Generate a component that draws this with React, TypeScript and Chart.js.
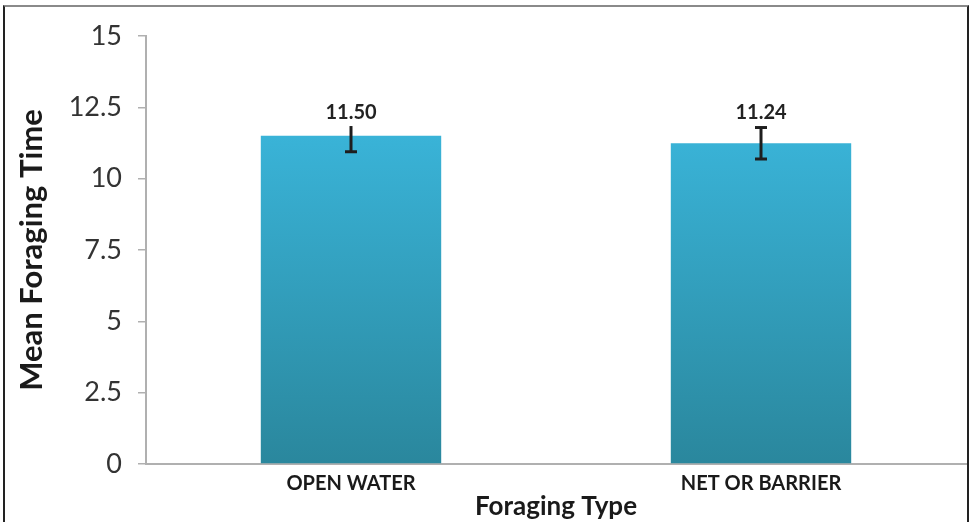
import { useEffect, useRef } from 'react';
import { Chart, registerables } from 'chart.js';

Chart.register(...registerables);

const categories = ['OPEN WATER', 'NET OR BARRIER'];
const means = [11.5, 11.24];
const errors = [0.56, 0.55];
const valueLabels = ['11.50', '11.24'];
const yTicks = [0, 2.5, 5, 7.5, 10, 12.5, 15];
const LABEL_VALUE = 12.3;

const FONT = 'Lato, "Open Sans", sans-serif';

const errorBarPlugin = {
  id: 'errorBars',
  afterDatasetsDraw(chart: any) {
    const ctx = chart.ctx;
    const y = chart.scales.y;
    const meta = chart.getDatasetMeta(0);
    meta.data.forEach((bar: any, i: number) => {
      const x = bar.x;
      const top = y.getPixelForValue(means[i] + errors[i]);
      const bot = y.getPixelForValue(means[i] - errors[i]);
      ctx.save();
      ctx.strokeStyle = '#1e1e1e';
      ctx.lineWidth = 3;
      ctx.beginPath();
      ctx.moveTo(x, top);
      ctx.lineTo(x, bot);
      ctx.moveTo(x - 6, top);
      ctx.lineTo(x + 6, top);
      ctx.moveTo(x - 6, bot);
      ctx.lineTo(x + 6, bot);
      ctx.stroke();
      const ly = y.getPixelForValue(LABEL_VALUE);
      ctx.font = 'bold 20px ' + FONT;
      const w = ctx.measureText(valueLabels[i]).width;
      ctx.fillStyle = '#ffffff';
      ctx.fillRect(x - w / 2 - 4, ly - 14, w + 8, 27);
      ctx.fillStyle = '#222222';
      ctx.textAlign = 'center';
      ctx.textBaseline = 'middle';
      ctx.fillText(valueLabels[i], x, ly);
      ctx.restore();
    });
  },
};

export default function App() {
  const ref = useRef<HTMLCanvasElement | null>(null);

  useEffect(() => {
    if (!ref.current) return;
    const chart = new Chart(ref.current, {
      type: 'bar',
      data: {
        labels: categories,
        datasets: [
          {
            data: means,
            backgroundColor: (c: any) => {
              const { chart } = c;
              const area = chart.chartArea;
              if (!area) return '#34a6c8';
              const ys = chart.scales.y;
              const g = chart.ctx.createLinearGradient(0, ys.getPixelForValue(12), 0, area.bottom);
              g.addColorStop(0, '#3ab5da');
              g.addColorStop(1, '#2a879d');
              return g;
            },
            borderWidth: 0,
            categoryPercentage: 1,
            barPercentage: 0.44,
          },
        ],
      },
      options: {
        responsive: false,
        animation: false,
        layout: { padding: { top: 36, right: 3, left: 0, bottom: 0 } },
        plugins: {
          legend: { display: false },
          tooltip: { enabled: false },
        },
        scales: {
          x: {
            grid: { display: false },
            border: { display: true, color: '#b0b0b0', width: 2 },
            ticks: {
              color: '#1a1a1a',
              padding: 0,
              font: { family: FONT, size: 20, weight: 'bold' },
            },
            title: {
              display: true,
              text: 'Foraging Type',
              color: '#1a1a1a',
              padding: { top: 0, bottom: 0 },
              font: { family: FONT, size: 26, weight: 'bold', lineHeight: 1.2 },
            },
            afterFit: (s: any) => {
              s.height = 58;
            },
          },
          y: {
            min: 0,
            max: 15,
            afterBuildTicks: (s: any) => {
              s.ticks = yTicks.map((v) => ({ value: v }));
            },
            grid: {
              drawOnChartArea: false,
              drawTicks: true,
              tickLength: 8,
              color: '#b0b0b0',
              lineWidth: 1.5,
            },
            border: { display: true, color: '#b0b0b0', width: 2 },
            ticks: {
              color: '#333333',
              padding: 16,
              font: { family: FONT, size: 27 },
              callback: (v: any) => String(v),
            },
            title: {
              display: true,
              text: 'Mean Foraging Time',
              color: '#1a1a1a',
              padding: { top: 13, bottom: 0 },
              font: { family: FONT, size: 31, weight: 'bold', lineHeight: 1.2 },
            },
            afterFit: (s: any) => {
              s.width = 146;
            },
          },
        },
      },
      plugins: [errorBarPlugin],
    });
    return () => chart.destroy();
  }, []);

  return (
    <div style={{ position: 'absolute', left: 0, top: 0, width: 969, height: 522, background: '#fff', overflow: 'hidden' }}>
      <canvas ref={ref} width={969} height={522} style={{ width: 969, height: 522, display: 'block' }} />
      <div
        style={{
          position: 'absolute',
          left: 3,
          top: 5,
          width: 962,
          height: 530,
          borderLeft: '2px solid #222',
          borderRight: '2px solid #222',
          borderTop: '2px solid #8a8a8a',
          pointerEvents: 'none',
        }}
      />
    </div>
  );
}
